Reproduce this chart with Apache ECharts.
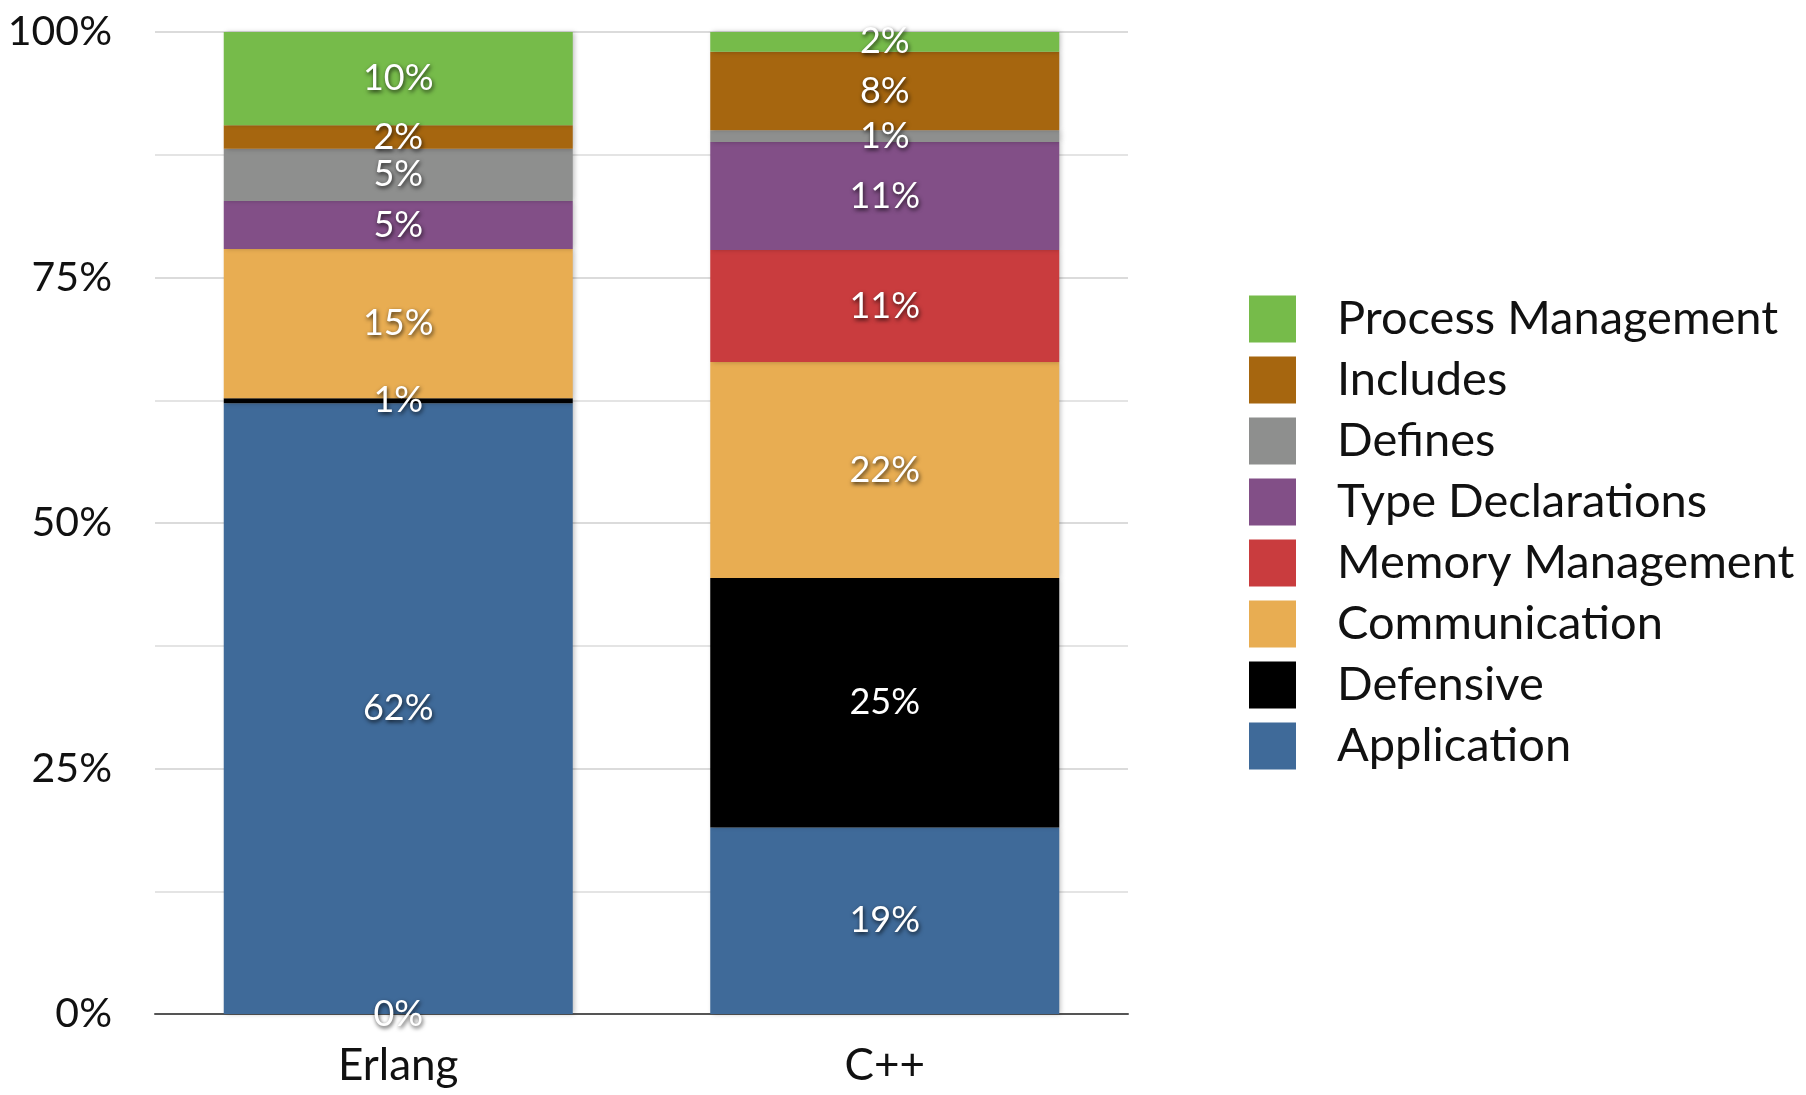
<!DOCTYPE html>
<html>
<head>
<meta charset="utf-8">
<style>
  html, body { margin: 0; padding: 0; background: #ffffff; }
  #chart { width: 1806px; height: 1095px; }
</style>
<script src="https://cdn.jsdelivr.net/npm/echarts@6/dist/echarts.min.js"></script>
</head>
<body>
<div id="chart"></div>
<script>
// ---- Data (percent of code) ----
const categories = ['Erlang', 'C++'];
const application        = [62.2, 19.0];
const defensive          = [0.5, 25.4];
const communication      = [15.2, 22.0];
const memoryManagement   = [0, 11.4];
const typeDeclarations   = [4.9, 11.0];
const defines            = [5.3, 1.2];
const includes           = [2.4, 8.0];
const processManagement  = [9.5, 2.0];
const yTicks = [0, 25, 50, 75, 100];
const legendOrder = ['Process Management', 'Includes', 'Defines', 'Type Declarations',
                     'Memory Management', 'Communication', 'Defensive', 'Application'];

const FONT = 'Lato, "Open Sans", sans-serif';
const colors = {
  'Application': '#3f6a99',
  'Defensive': '#000000',
  'Communication': '#e8ad52',
  'Memory Management': '#c93c3e',
  'Type Declarations': '#824f87',
  'Defines': '#8e8f8e',
  'Includes': '#a6660f',
  'Process Management': '#76bb4a'
};

const labelStyle = {
  show: true,
  position: 'inside',
  color: '#ffffff',
  fontFamily: FONT,
  fontSize: 36,
  textShadowColor: 'rgba(0,0,0,0.75)',
  textShadowBlur: 4,
  textShadowOffsetX: 1,
  textShadowOffsetY: 2,
  formatter: p => Math.round(p.value) + '%'
};

function stacked(name, values) {
  return {
    name: name,
    type: 'bar',
    stack: 'total',
    barWidth: 349,
    barGap: '-100%',
    data: values,
    itemStyle: {
      color: colors[name],
      shadowColor: 'rgba(0,0,0,0.25)',
      shadowBlur: 5,
      shadowOffsetX: 2
    },
    label: labelStyle,
    emphasis: { disabled: true }
  };
}

// Memory Management: stacked where it has a share; its zero share in Erlang is
// drawn as an unstacked zero bar so that its label sits on the baseline.
const memStacked = memoryManagement.map(v => v === 0 ? '-' : v);
const memZero = memoryManagement.map(v => v === 0 ? v : '-');

const series = [
  stacked('Application', application),
  stacked('Defensive', defensive),
  stacked('Communication', communication),
  stacked('Memory Management', memStacked),
  stacked('Type Declarations', typeDeclarations),
  stacked('Defines', defines),
  stacked('Includes', includes),
  stacked('Process Management', processManagement),
  Object.assign(stacked('Memory Management', memZero), { stack: 'zero', z: 3 })
];

const chart = echarts.init(document.getElementById('chart'), null, { renderer: 'canvas' });
chart.setOption({
  animation: false,
  backgroundColor: '#ffffff',
  textStyle: { fontFamily: FONT },
  grid: { left: 155, right: 678, top: 32, bottom: 81, containLabel: false },
  legend: {
    data: legendOrder,
    orient: 'vertical',
    left: 1249,
    top: 295,
    padding: 0,
    itemWidth: 47,
    itemHeight: 47,
    itemGap: 13,
    icon: 'rect',
    selectedMode: false,
    textStyle: {
      fontFamily: FONT,
      fontSize: 47,
      color: '#111111',
      lineHeight: 48,
      padding: [0, 0, 0, 36]
    }
  },
  xAxis: {
    type: 'category',
    data: categories,
    axisLine: { lineStyle: { color: '#555555', width: 2 } },
    axisTick: { show: false },
    axisLabel: { fontFamily: FONT, fontSize: 44, color: '#111111', margin: 30 }
  },
  yAxis: {
    type: 'value',
    min: yTicks[0],
    max: yTicks[yTicks.length - 1],
    interval: yTicks[1] - yTicks[0],
    axisLine: { show: false },
    axisTick: { show: false },
    axisLabel: {
      fontFamily: FONT, fontSize: 41, color: '#111111', margin: 43,
      formatter: v => v + '%'
    },
    splitLine: { lineStyle: { color: '#cfcfcf', width: 1.5 } },
    minorTick: { show: false, splitNumber: 2 },
    minorSplitLine: { show: true, lineStyle: { color: '#dcdcdc', width: 1.5 } }
  },
  series: series
});
</script>
</body>
</html>
